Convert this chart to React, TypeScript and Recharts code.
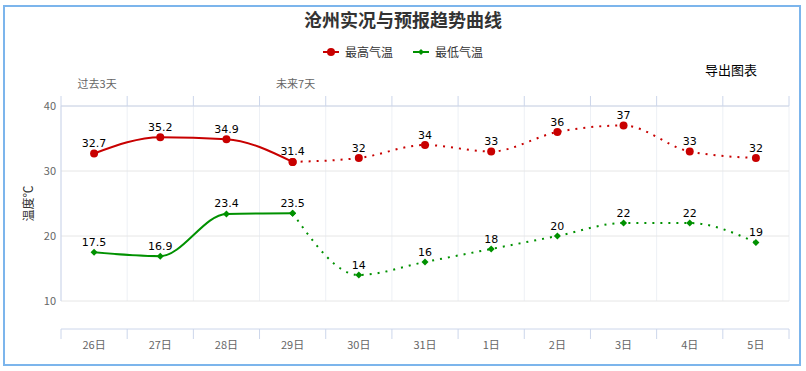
import React from "react";
import { LineChart, Line, XAxis, YAxis, CartesianGrid, LabelList } from "recharts";

const days = ["26日", "27日", "28日", "29日", "30日", "31日", "1日", "2日", "3日", "4日", "5日"];
const highTemps = [32.7, 35.2, 34.9, 31.4, 32, 34, 33, 36, 37, 33, 32];
const lowTemps = [17.5, 16.9, 23.4, 23.5, 14, 16, 18, 20, 22, 22, 19];
// last observed day (29日); the forecast starts from here
const LAST_OBS = 3;
const periodLabels = ["过去3天", "未来7天"];
const periodStart = [0, LAST_OBS];
const yTicks = [10, 20, 30, 40];
const xBounds = days.map((_, i) => i).concat(days.length);

const RED = "#c80000";
const GREEN = "#009100";
const AXIS = "#ccd6eb";
const FONT = "'Noto Sans CJK SC', 'DejaVu Sans', sans-serif";

const W = 806;
const H = 371;
const LEFT = 61;
const RIGHT = 17;
const BAND = (W - LEFT - RIGHT) / days.length;
const AXIS_OFFSET = 28;

const data = days.map((day, i) => ({
  pos: i + 0.5,
  day,
  highPast: i <= LAST_OBS ? highTemps[i] : null,
  highFc: i >= LAST_OBS ? highTemps[i] : null,
  highFcLabel: i > LAST_OBS ? highTemps[i] : null,
  lowPast: i <= LAST_OBS ? lowTemps[i] : null,
  lowFc: i >= LAST_OBS ? lowTemps[i] : null,
  lowFcLabel: i > LAST_OBS ? lowTemps[i] : null,
}));

const BottomTick = (props: any) => {
  const { x, y, payload } = props;
  const label = days[payload.value];
  if (!label) return null;
  return (
    <text x={x + BAND / 2} y={y + 31} textAnchor="middle" dominantBaseline="central" fontSize={11} fill="#666">
      {label}
    </text>
  );
};

const TopTick = (props: any) => {
  const { x, y, payload } = props;
  const k = periodStart.indexOf(payload.value);
  if (k < 0) return null;
  return (
    <text x={x + BAND / 2 + 3} y={y - 11} textAnchor="middle" dominantBaseline="central" fontSize={11} fill="#666">
      {periodLabels[k]}
    </text>
  );
};

const RedDot = (props: any) => {
  const { cx, cy, value, index } = props;
  if (cx == null || cy == null || value == null) return <g key={index} />;
  return <circle key={index} cx={cx} cy={cy} r={4} fill={RED} />;
};

const GreenDot = (props: any) => {
  const { cx, cy, value, index } = props;
  if (cx == null || cy == null || value == null) return <g key={index} />;
  return (
    <path
      key={index}
      d={`M${cx} ${cy - 3.5}L${cx + 3.5} ${cy}L${cx} ${cy + 3.5}L${cx - 3.5} ${cy}Z`}
      fill={GREEN}
    />
  );
};

const ValueLabel = (props: any) => {
  const { x, y, value } = props;
  if (value == null || x == null || y == null) return null;
  return (
    <text x={x} y={y - 10} textAnchor="middle" dominantBaseline="central" fontSize={11} fill="#000"
      fontFamily="'DejaVu Sans', sans-serif">
      {value}
    </text>
  );
};

const YLabel = (props: any) => {
  const { viewBox } = props;
  const cy = viewBox.y + viewBox.height / 2;
  return (
    <text transform={`translate(27, ${cy}) rotate(-90)`} textAnchor="middle" dominantBaseline="central"
      fontSize={12} fill="#333">
      温度℃
    </text>
  );
};

const LegendItem = ({ color, label, diamond }: { color: string; label: string; diamond?: boolean }) => (
  <span style={{ display: "inline-flex", alignItems: "center", margin: "0 10px" }}>
    <svg width={16} height={10} style={{ marginRight: 6 }}>
      <line x1={0} y1={5} x2={16} y2={5} stroke={color} strokeWidth={2} />
      {diamond ? <path d="M8 2L11 5L8 8L5 5Z" fill={color} /> : <circle cx={8} cy={5} r={4} fill={color} />}
    </svg>
    {label}
  </span>
);

export default function App() {
  return (
    <div style={{ position: "absolute", left: 0, top: 0, width: W, height: H, background: "#fff", fontFamily: FONT }}>
      <div
        style={{
          position: "absolute", left: 3, top: 5, width: 798, height: 361,
          border: "2px solid #7cb5ec", boxSizing: "border-box",
        }}
      />
      <div style={{ position: "absolute", left: 0, top: 8, width: W, textAlign: "center", fontSize: 18, fontWeight: "bold", color: "#333", lineHeight: "22px" }}>
        沧州实况与预报趋势曲线
      </div>
      <div style={{ position: "absolute", left: 0, top: 44, width: W, textAlign: "center", fontSize: 12, color: "#333", lineHeight: "16px", display: "flex", justifyContent: "center" }}>
        <LegendItem color={RED} label="最高气温" />
        <LegendItem color={GREEN} label="最低气温" diamond />
      </div>
      <div style={{ position: "absolute", left: 705, top: 61, fontSize: 13, color: "#000", lineHeight: "18px" }}>
        导出图表
      </div>
      <div style={{ position: "absolute", left: 0, top: 0 }}>
        <LineChart width={W} height={H} data={data} margin={{ top: 76, right: RIGHT, bottom: 30, left: 0 }}
          style={{ fontFamily: FONT }}>
          <CartesianGrid xAxisId="bottom" horizontal={false} stroke="#edf0f5" />
          <CartesianGrid xAxisId="bottom" vertical={false} stroke="#e6e6e6" />
          <XAxis
            xAxisId="bottom"
            dataKey="pos"
            type="number"
            domain={[0, days.length]}
            ticks={xBounds}
            interval={0}
            height={40}
            tickSize={10}
            axisLine={{ stroke: AXIS, transform: `translate(0,${AXIS_OFFSET})` }}
            tickLine={{ stroke: AXIS, transform: `translate(0,${AXIS_OFFSET})` }}
            tick={<BottomTick />}
          />
          <XAxis
            xAxisId="top"
            orientation="top"
            dataKey="pos"
            type="number"
            domain={[0, days.length]}
            ticks={xBounds}
            interval={0}
            height={30}
            tickSize={10}
            axisLine={{ stroke: AXIS }}
            tickLine={{ stroke: AXIS }}
            tick={<TopTick />}
          />
          <YAxis
            domain={[10, 40]}
            ticks={yTicks}
            width={LEFT}
            tickSize={3}
            tickLine={false}
            axisLine={{ stroke: AXIS }}
            tick={{ fontSize: 11, fill: "#666" }}
            label={<YLabel />}
          />
          <Line xAxisId="bottom" type="monotone" dataKey="highPast" stroke={RED} strokeWidth={2}
            dot={RedDot} activeDot={false} isAnimationActive={false} connectNulls={false}>
            <LabelList dataKey="highPast" content={ValueLabel} />
          </Line>
          <Line xAxisId="bottom" type="monotone" dataKey="highFc" stroke={RED} strokeWidth={2}
            strokeDasharray="2 6" dot={RedDot} activeDot={false} isAnimationActive={false}>
            <LabelList dataKey="highFcLabel" content={ValueLabel} />
          </Line>
          <Line xAxisId="bottom" type="monotone" dataKey="lowPast" stroke={GREEN} strokeWidth={2}
            dot={GreenDot} activeDot={false} isAnimationActive={false}>
            <LabelList dataKey="lowPast" content={ValueLabel} />
          </Line>
          <Line xAxisId="bottom" type="monotone" dataKey="lowFc" stroke={GREEN} strokeWidth={2}
            strokeDasharray="2 6" dot={GreenDot} activeDot={false} isAnimationActive={false}>
            <LabelList dataKey="lowFcLabel" content={ValueLabel} />
          </Line>
        </LineChart>
      </div>
    </div>
  );
}
